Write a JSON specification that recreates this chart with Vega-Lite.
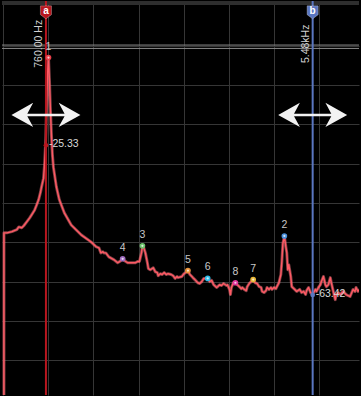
{
  "$schema": "https://vega.github.io/schema/vega-lite/v6.json",
  "width": 361,
  "height": 396,
  "autosize": {"type": "fit", "contains": "padding"},
  "padding": 0,
  "background": "#000000",
  "config": {
    "view": {"stroke": null},
    "axis": {"labels": false, "ticks": false, "domain": false, "title": null, "minExtent": 0, "maxExtent": 0, "gridColor": "#363636", "gridWidth": 1, "gridOpacity": 1},
    "text": {"font": "Liberation Sans"}
  },
  "datasets": {
    "trace": [
      {"f":17,"db":-100},{"f":17.5,"db":-47.6},{"f":70,"db":-47.6},{"f":157.5,"db":-47.3},{"f":245,"db":-46.8},{"f":280,"db":-46.1},{"f":332.5,"db":-46.3},{"f":367.5,"db":-45.8},{"f":420,"db":-44.8},{"f":472.5,"db":-43.8},{"f":507.5,"db":-43.0},{"f":560,"db":-41.8},{"f":595,"db":-40.5},{"f":630,"db":-39.2},{"f":665,"db":-37.2},{"f":682.5,"db":-35.9},{"f":717.5,"db":-33.7},{"f":735,"db":-30.4},{"f":752.5,"db":-25.3},{"f":770,"db":-16.5},{"f":787.5,"db":-7.6},{"f":805,"db":-2.8},{"f":822.5,"db":-8.9},{"f":840,"db":-16.5},{"f":857.5,"db":-22.8},{"f":875,"db":-27.8},{"f":892.5,"db":-30.9},{"f":945,"db":-35.9},{"f":997.5,"db":-39.2},{"f":1085,"db":-42.5},{"f":1207.5,"db":-45.6},{"f":1382.5,"db":-48.1},{"f":1557.5,"db":-49.9},{"f":1645,"db":-51.1},{"f":1697.5,"db":-51.4},{"f":1732.5,"db":-52.7},{"f":1767.5,"db":-52.4},{"f":1785,"db":-52.7},{"f":1820,"db":-52.7},{"f":1872.5,"db":-53.7},{"f":1960,"db":-54.4},{"f":2030,"db":-55.2},{"f":2065,"db":-54.9},{"f":2117.5,"db":-54.2},{"f":2152.5,"db":-54.7},{"f":2205,"db":-55.2},{"f":2257.5,"db":-55.2},{"f":2345,"db":-55.2},{"f":2380,"db":-54.9},{"f":2415,"db":-54.9},{"f":2450,"db":-52.7},{"f":2467.5,"db":-50.9},{"f":2485,"db":-51.1},{"f":2520,"db":-52.7},{"f":2555,"db":-55.2},{"f":2572.5,"db":-56.7},{"f":2607.5,"db":-57.0},{"f":2660,"db":-56.5},{"f":2695,"db":-57.5},{"f":2730,"db":-57.7},{"f":2747.5,"db":-58.5},{"f":2782.5,"db":-58.0},{"f":2817.5,"db":-58.2},{"f":2852.5,"db":-57.7},{"f":2887.5,"db":-58.2},{"f":2922.5,"db":-58.0},{"f":2975,"db":-58.2},{"f":3010,"db":-58.5},{"f":3045,"db":-59.2},{"f":3080,"db":-58.7},{"f":3097.5,"db":-59.0},{"f":3167.5,"db":-58.7},{"f":3202.5,"db":-58.0},{"f":3255,"db":-57.5},{"f":3272.5,"db":-57.2},{"f":3307.5,"db":-58.2},{"f":3342.5,"db":-58.7},{"f":3360,"db":-59.0},{"f":3395,"db":-59.5},{"f":3447.5,"db":-60.3},{"f":3482.5,"db":-60.5},{"f":3517.5,"db":-60.0},{"f":3552.5,"db":-59.2},{"f":3622.5,"db":-59.2},{"f":3657.5,"db":-60.0},{"f":3692.5,"db":-59.7},{"f":3727.5,"db":-60.8},{"f":3780,"db":-61.5},{"f":3797.5,"db":-61.3},{"f":3832.5,"db":-60.8},{"f":3867.5,"db":-61.0},{"f":3902.5,"db":-60.5},{"f":3955,"db":-61.0},{"f":3972.5,"db":-60.8},{"f":4007.5,"db":-62.0},{"f":4025,"db":-63.3},{"f":4042.5,"db":-61.5},{"f":4077.5,"db":-60.3},{"f":4112.5,"db":-60.3},{"f":4147.5,"db":-60.8},{"f":4182.5,"db":-61.3},{"f":4217.5,"db":-61.8},{"f":4235,"db":-61.5},{"f":4270,"db":-62.0},{"f":4305,"db":-62.3},{"f":4322.5,"db":-61.3},{"f":4357.5,"db":-60.5},{"f":4392.5,"db":-60.0},{"f":4427.5,"db":-59.5},{"f":4462.5,"db":-60.3},{"f":4497.5,"db":-60.5},{"f":4532.5,"db":-61.3},{"f":4567.5,"db":-61.5},{"f":4585,"db":-62.5},{"f":4620,"db":-62.8},{"f":4655,"db":-62.3},{"f":4672.5,"db":-61.5},{"f":4707.5,"db":-62.0},{"f":4742.5,"db":-61.5},{"f":4760,"db":-62.0},{"f":4795,"db":-61.5},{"f":4830,"db":-61.8},{"f":4847.5,"db":-61.3},{"f":4882.5,"db":-60.3},{"f":4917.5,"db":-58.2},{"f":4935,"db":-54.9},{"f":4952.5,"db":-50.4},{"f":4979,"db":-48.4},{"f":5005,"db":-51.1},{"f":5022.5,"db":-52.7},{"f":5040,"db":-57.0},{"f":5057.5,"db":-55.7},{"f":5092.5,"db":-58.7},{"f":5110,"db":-61.3},{"f":5162.5,"db":-62.0},{"f":5197.5,"db":-62.5},{"f":5250,"db":-62.0},{"f":5285,"db":-62.8},{"f":5320,"db":-62.5},{"f":5355,"db":-63.3},{"f":5372.5,"db":-62.3},{"f":5407.5,"db":-61.5},{"f":5442.5,"db":-62.8},{"f":5477.5,"db":-63.3},{"f":5530,"db":-62.0},{"f":5547.5,"db":-62.5},{"f":5582.5,"db":-61.5},{"f":5617.5,"db":-60.8},{"f":5635,"db":-60.0},{"f":5670,"db":-58.7},{"f":5705,"db":-60.8},{"f":5722.5,"db":-61.3},{"f":5757.5,"db":-60.8},{"f":5792.5,"db":-59.0},{"f":5810,"db":-60.3},{"f":5845,"db":-62.5},{"f":5880,"db":-64.6},{"f":5897.5,"db":-63.3},{"f":5932.5,"db":-62.8},{"f":5967.5,"db":-63.3},{"f":6020,"db":-62.5},{"f":6072.5,"db":-63.3},{"f":6142.5,"db":-63.8},{"f":6195,"db":-62.0},{"f":6230,"db":-62.5},{"f":6247.5,"db":-61.5},{"f":6282.5,"db":-62.5},{"f":6310,"db":-62.0}
    ],
    "markers": [
      {"key":"1","f":805,"db":-3.0},
      {"key":"2","f":4979,"db":-48.4},
      {"key":"3","f":2467.5,"db":-50.9},
      {"key":"4","f":2117.5,"db":-54.2},
      {"key":"5","f":3272.5,"db":-57.2},
      {"key":"6","f":3622.5,"db":-59.2},
      {"key":"7","f":4427.5,"db":-59.5},
      {"key":"8","f":4112.5,"db":-60.3}
    ],
    "cursors": [
      {"key":"a","f":760,"freq":"760.00 Hz","reading":"-25.33","db":-25.33},
      {"key":"b","f":5480,"freq":"5.48kHz","reading":"-63.42","db":-63.42}
    ],
    "refline": [{"db":0.18},{"db":-0.68}]
  },
  "encoding": {
    "x": {"field": "f", "type": "quantitative", "scale": {"domain": [-17.5, 6300], "nice": false, "zero": false}, "axis": {"grid": true, "values": [0,800,1600,2400,3200,4000,4800,5600]}},
    "y": {"field": "db", "type": "quantitative", "scale": {"domain": [-88.86, 11.39], "nice": false, "zero": false}, "axis": {"grid": true, "values": [-80,-70,-60,-50,-40,-30,-20,-10,0]}}
  },
  "layer": [
    {
      "data": {"name": "refline"},
      "mark": {"type": "rule", "color": "#8a8a8a", "strokeWidth": 1},
      "encoding": {"x": null, "y": {"field": "db", "type": "quantitative"}}
    },
    {
      "data": {"name": "refline"},
      "mark": {"type": "rule", "color": "#2e2e2e", "strokeWidth": 4},
      "encoding": {"x": null, "y": {"datum": 10.9}}
    },
    {
      "data": {"name": "trace"},
      "mark": {"type": "line", "color": "#ff7c86", "strokeWidth": 3, "opacity": 0.5, "clip": true, "strokeJoin": "round"}
    },
    {
      "data": {"name": "trace"},
      "mark": {"type": "line", "color": "#ff5a64", "strokeWidth": 1.4, "clip": true, "strokeJoin": "round"}
    },
    {
      "data": {"name": "cursors"},
      "mark": {"type": "rule", "strokeWidth": 2},
      "encoding": {
        "y": null,
        "color": {"field": "key", "type": "nominal", "legend": null, "scale": {"domain": ["a","b","1","2","3","4","5","6","7","8"], "range": ["#b8161e","#5a76c0","#e8404a","#4a90dc","#6cc46c","#9e6cc0","#e8923a","#30bde8","#e8b838","#e0369c"]}},
        "strokeWidth": {"field": "key", "type": "nominal", "legend": null, "scale": {"domain": ["a","b"], "range": [2, 3]}}
      }
    },
    {
      "data": {"name": "cursors"},
      "mark": {"type": "point", "filled": true, "color": "#f2f2f2", "opacity": 1, "size": 4761, "shape": "M-1,0L-0.37,-0.35L-0.54,-0.035L0.54,-0.035L0.37,-0.35L1,0L0.37,0.35L0.54,0.035L-0.54,0.035L-0.37,0.35Z"},
      "encoding": {"y": {"datum": -17.6}}
    },
    {
      "data": {"name": "markers"},
      "mark": {"type": "point", "filled": true, "opacity": 1, "size": 32},
      "encoding": {
        "color": {"field": "key", "type": "nominal", "legend": null, "scale": {"domain": ["a","b","1","2","3","4","5","6","7","8"], "range": ["#b8161e","#5a76c0","#e8404a","#4a90dc","#6cc46c","#9e6cc0","#e8923a","#30bde8","#e8b838","#e0369c"]}}
      }
    },
    {
      "data": {"name": "markers"},
      "mark": {"type": "point", "filled": true, "color": "#ffffff", "opacity": 0.75, "size": 5}
    },
    {
      "data": {"name": "markers"},
      "mark": {"type": "text", "dy": -11, "fontSize": 10.5, "color": "#c8c8c8", "baseline": "middle", "align": "center"},
      "encoding": {"text": {"field": "key"}}
    },
    {
      "data": {"name": "cursors"},
      "mark": {"type": "point", "filled": true, "opacity": 1, "size": 169, "shape": "M-0.85,-1L0.85,-1L0.85,0.35L0,1L-0.85,0.35Z", "stroke": "#dddddd", "strokeWidth": 0.6, "strokeOpacity": 0.6},
      "encoding": {
        "y": {"datum": 8.5},
        "color": {"field": "key", "type": "nominal", "legend": null, "scale": {"domain": ["a","b","1","2","3","4","5","6","7","8"], "range": ["#d8262e","#5a76c0","#e8404a","#4a90dc","#6cc46c","#9e6cc0","#e8923a","#30bde8","#e8b838","#e0369c"]}}
      }
    },
    {
      "data": {"name": "cursors"},
      "mark": {"type": "text", "fontSize": 10, "fontWeight": "bold", "color": "#ffffff", "baseline": "middle", "align": "center"},
      "encoding": {"y": {"datum": 8.9}, "text": {"field": "key"}}
    },
    {
      "data": {"name": "cursors"},
      "mark": {"type": "text", "fontSize": 10.5, "color": "#d0d0d0", "angle": 270, "align": "center", "baseline": "bottom", "dy": -2},
      "encoding": {"y": {"datum": 0.5}, "text": {"field": "freq"}}
    },
    {
      "data": {"name": "cursors"},
      "mark": {"type": "point", "filled": true, "opacity": 1, "size": 22},
      "encoding": {
        "color": {"field": "key", "type": "nominal", "legend": null, "scale": {"domain": ["a","b","1","2","3","4","5","6","7","8"], "range": ["#d8262e","#5a76c0","#e8404a","#4a90dc","#6cc46c","#9e6cc0","#e8923a","#30bde8","#e8b838","#e0369c"]}}
      }
    },
    {
      "data": {"name": "cursors"},
      "mark": {"type": "text", "fontSize": 10.5, "color": "#d8d8d8", "align": "left", "baseline": "middle", "dx": 3, "dy": -1},
      "encoding": {"text": {"field": "reading"}}
    }
  ]
}
